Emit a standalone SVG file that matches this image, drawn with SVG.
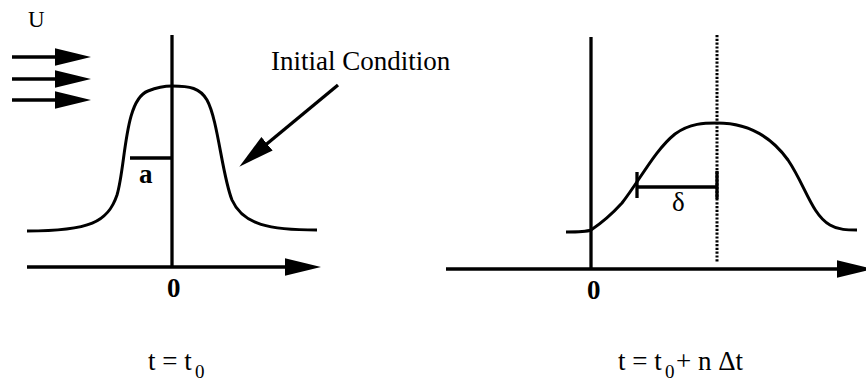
<svg xmlns="http://www.w3.org/2000/svg" width="866" height="383" viewBox="0 0 866 383">
<style>
.ln{stroke:#000;stroke-width:3.3;fill:none}
.cv{stroke:#000;stroke-width:3;fill:none}
.tx{font-family:"Liberation Serif","Times New Roman",serif;font-size:27px;fill:#000}
.sub{font-size:19px}
.b{font-weight:bold}
</style>
<defs>
<marker id="ah" viewBox="0 -10 37 20" markerWidth="37" markerHeight="20" refX="2" refY="0" orient="auto" markerUnits="userSpaceOnUse">
<path d="M0,-8.8 L36,0 L0,8.8 z" fill="#000"/>
</marker>
</defs>
<rect width="866" height="383" fill="#fff"/>
<g id="connectors">
<line class="ln" x1="12" y1="57" x2="57" y2="57" marker-end="url(#ah)"/>
<line class="ln" x1="12" y1="79" x2="57" y2="79" marker-end="url(#ah)"/>
<line class="ln" x1="12" y1="100" x2="57" y2="100" marker-end="url(#ah)"/>
<line class="ln" x1="338" y1="85" x2="265.5" y2="145" marker-end="url(#ah)"/>
</g>
<g id="left-plot">
<line class="ln" x1="27" y1="267" x2="287" y2="267" marker-end="url(#ah)"/>
<line class="ln" x1="172" y1="35" x2="172" y2="267"/>
<path class="cv" d="M27,231 C90,231 108,222 117,195 C126,165 124,100 148,91 C158,87 165,86 172,86 C190,86 200,88 207,100 C218,120 222,175 232,200 C243,225 270,230 317,230"/>
<line class="ln" x1="130" y1="158" x2="172" y2="158"/>
<text class="tx b" x="139" y="183">a</text>
<text class="tx b" x="167" y="297">0</text>
<text class="tx" x="28" y="27" style="font-size:23px">U</text>
<text class="tx" x="148" y="370">t = t</text>
<text class="tx sub" x="195" y="378">0</text>
</g>
<g id="label-initial">
<text class="tx" x="271" y="70">Initial Condition</text>
</g>
<g id="right-plot">
<line class="ln" x1="446" y1="269" x2="839" y2="269" marker-end="url(#ah)"/>
<line class="ln" x1="591" y1="37" x2="591" y2="269"/>
<line x1="717" y1="35" x2="717" y2="263" stroke="#000" stroke-width="3" stroke-dasharray="2.2 1.6"/>
<path class="cv" d="M566,232 C578,232 586,232 591,230 C603,222 612,214 622,203 C640,180 655,150 675,134 C690,123 705,123 717,123 C745,123 770,135 788,160 C805,185 812,215 830,225 C838,230 848,230 857,230"/>
<line class="ln" x1="637" y1="187" x2="717" y2="187"/>
<line class="ln" x1="637" y1="172" x2="637" y2="198"/>
<line class="ln" x1="717" y1="171" x2="717" y2="199"/>
<text class="tx" x="672" y="211">δ</text>
<text class="tx b" x="587" y="299">0</text>
<text class="tx" x="618" y="370">t = t</text>
<text class="tx sub" x="665" y="378">0</text>
<text class="tx" x="676" y="370">+ n Δt</text>
</g>
</svg>
